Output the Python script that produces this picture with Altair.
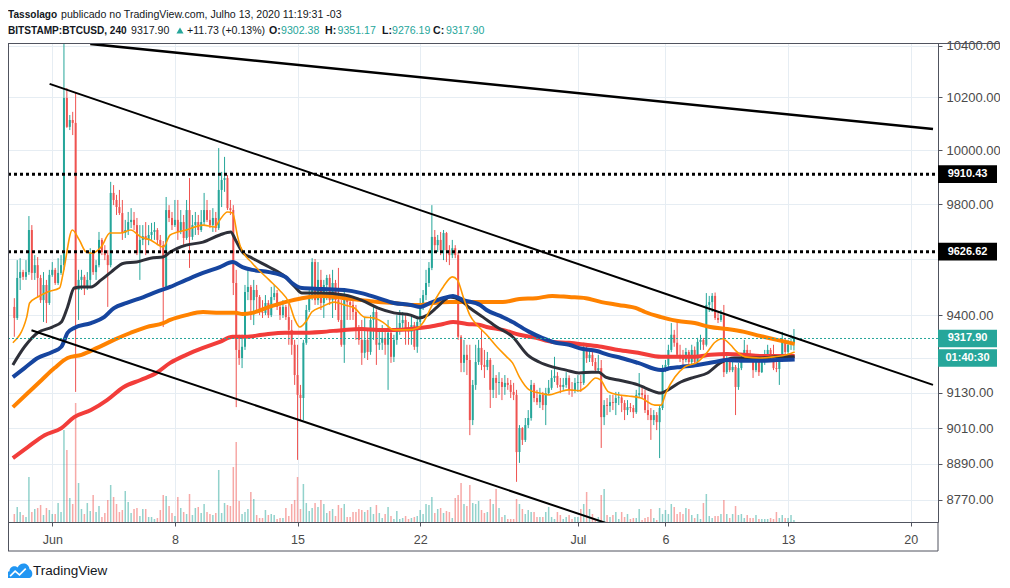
import altair as alt
import pandas as pd

GREEN = "#26a69a"
RED = "#ef5350"
INK = "#131722"
FRAME = "#50535e"
GRID = "#e6edf3"
SANS = "Liberation Sans"

W, H = 930, 479

# 4h candles, BITSTAMP:BTCUSD, first bar 2020-05-29 20:00
opens = [
    9429, 9390, 9532, 9553, 9536, 9553, 9705, 9550, 9578, 9532, 9453, 9507,
    9443, 9543, 9561, 9514, 9550, 9578, 10198, 10088, 10114, 10103, 9489, 9525,
    9536, 9500, 9525, 9621, 9553, 9578, 9669, 9625, 9614, 9578, 9841, 9815,
    9789, 9767, 9694, 9705, 9734, 9742, 9723, 9621, 9669, 9683, 9669, 9687,
    9698, 9705, 9669, 9650, 9500, 9778, 9749, 9723, 9742, 9698, 9734, 9676,
    9778, 9680, 9723, 9734, 9705, 9734, 9778, 9742, 9723, 9749, 9712, 9852,
    9889, 9896, 9785, 9778, 9514, 9278, 9250, 9289, 9482, 9500, 9453, 9489,
    9464, 9411, 9408, 9443, 9400, 9464, 9478, 9429, 9400, 9429, 9393, 9348,
    9296, 9191, 9123, 9112, 9303, 9418, 9464, 9589, 9453, 9525, 9443, 9507,
    9532, 9453, 9514, 9453, 9383, 9296, 9460, 9446, 9436, 9411, 9348, 9313,
    9268, 9313, 9271, 9383, 9411, 9296, 9303, 9320, 9296, 9338, 9254, 9313,
    9355, 9372, 9383, 9348, 9341, 9365, 9289, 9376, 9436, 9471, 9514, 9568,
    9680, 9650, 9669, 9632, 9694, 9632, 9614, 9639, 9614, 9324, 9233, 9261,
    9243, 9037, 9157, 9236, 9285, 9226, 9219, 9243, 9140, 9181, 9164, 9167,
    9150, 9164, 9157, 9133, 9123, 8929, 9010, 8970, 9020, 9044, 9157, 9112,
    9098, 9123, 9088, 9129, 9147, 9181, 9188, 9157, 9150, 9157, 9181, 9140,
    9137, 9164, 9167, 9164, 9278, 9250, 9261, 9236, 9208, 9215, 9047, 9088,
    9085, 9098, 9095, 9112, 9114, 9095, 9071, 9081, 9078, 9064, 9123, 9129,
    9123, 9071, 9054, 9037, 9054, 9030, 9078, 9208, 9226, 9278, 9331, 9303,
    9261, 9250, 9243, 9271, 9236, 9278, 9236, 9306, 9313, 9296, 9436, 9446,
    9468, 9390, 9383, 9400, 9201, 9243, 9208, 9219, 9150, 9215, 9250, 9278,
    9261, 9243, 9208, 9236, 9201, 9236, 9254, 9278, 9250, 9215, 9212, 9243,
    9313, 9271, 9296, 9302.38,
]
highs = [
    9460, 9596, 9603, 9561, 9596, 9756, 9723, 9614, 9607, 9543, 9553, 9525,
    9561, 9589, 9568, 9603, 9614, 10430, 10236, 10133, 10145, 10217, 9561, 9561,
    9543, 9553, 9639, 9632, 9596, 9698, 9676, 9650, 9632, 9882, 9870, 9834,
    9852, 9815, 9742, 9771, 9785, 9771, 9749, 9723, 9723, 9734, 9723, 9731,
    9734, 9712, 9687, 9665, 9826, 9796, 9771, 9815, 9815, 9778, 9760, 9815,
    9896, 9760, 9771, 9760, 9778, 9841, 9815, 9778, 9785, 9771, 10008, 9919,
    9975, 9907, 9815, 9796, 9561, 9331, 9331, 9507, 9561, 9507, 9525, 9507,
    9471, 9453, 9471, 9453, 9500, 9507, 9489, 9436, 9453, 9436, 9453, 9383,
    9313, 9296, 9157, 9313, 9436, 9489, 9603, 9600, 9589, 9561, 9525, 9543,
    9545, 9561, 9525, 9568, 9453, 9489, 9464, 9453, 9464, 9436, 9365, 9383,
    9390, 9348, 9400, 9436, 9420, 9355, 9365, 9348, 9383, 9345, 9331, 9400,
    9418, 9411, 9400, 9376, 9400, 9376, 9390, 9460, 9489, 9561, 9589, 9796,
    9705, 9687, 9698, 9705, 9698, 9650, 9669, 9650, 9625, 9330, 9313, 9296,
    9296, 9174, 9296, 9313, 9348, 9278, 9271, 9250, 9226, 9191, 9201, 9181,
    9191, 9181, 9174, 9164, 9140, 9020, 9013, 9044, 9071, 9174, 9164, 9140,
    9147, 9133, 9147, 9174, 9208, 9254, 9201, 9181, 9181, 9201, 9190, 9167,
    9181, 9191, 9191, 9303, 9296, 9278, 9271, 9250, 9261, 9243, 9105, 9112,
    9123, 9123, 9133, 9133, 9123, 9105, 9105, 9095, 9088, 9140, 9198, 9147,
    9140, 9123, 9078, 9071, 9064, 9088, 9226, 9243, 9296, 9372, 9348, 9386,
    9296, 9278, 9285, 9278, 9296, 9290, 9320, 9331, 9320, 9478, 9468, 9478,
    9480, 9408, 9418, 9436, 9261, 9250, 9243, 9226, 9233, 9261, 9313, 9296,
    9278, 9261, 9250, 9243, 9250, 9278, 9296, 9285, 9296, 9250, 9261, 9341,
    9320, 9313, 9331, 9351.17,
]
lows = [
    9324, 9383, 9489, 9525, 9525, 9543, 9525, 9525, 9464, 9443, 9376, 9372,
    9436, 9536, 9507, 9507, 9543, 9561, 10084, 10076, 10057, 9133, 9383, 9489,
    9471, 9489, 9496, 9543, 9525, 9570, 9614, 9596, 9429, 9570, 9796, 9760,
    9760, 9669, 9676, 9687, 9712, 9705, 9614, 9525, 9650, 9614, 9650, 9669,
    9669, 9650, 9632, 9358, 9490, 9734, 9705, 9716, 9669, 9690, 9650, 9669,
    9568, 9669, 9687, 9687, 9698, 9723, 9734, 9712, 9698, 9698, 9705, 9789,
    9845, 9778, 9760, 9471, 9081, 9226, 9215, 9278, 9453, 9383, 9365, 9418,
    9400, 9390, 9400, 9390, 9393, 9453, 9418, 9383, 9390, 9383, 9296, 9261,
    9157, 8903, 9037, 9037, 9296, 9411, 9453, 9436, 9436, 9418, 9390, 9453,
    9436, 9390, 9418, 9376, 9289, 9233, 9383, 9383, 9383, 9313, 9296, 9226,
    9250, 9243, 9261, 9313, 9226, 9278, 9278, 9261, 9140, 9233, 9236, 9296,
    9331, 9355, 9296, 9296, 9296, 9278, 9268, 9365, 9418, 9453, 9500, 9560,
    9632, 9625, 9614, 9596, 9589, 9578, 9603, 9603, 9313, 9201, 9201, 9191,
    8986, 9020, 9140, 9226, 9208, 9181, 9208, 9078, 9112, 9112, 9123, 9105,
    9123, 9140, 9112, 9105, 8830, 8893, 8953, 8963, 9010, 9035, 9098, 9088,
    9078, 9071, 9020, 9123, 9140, 9167, 9147, 9129, 9140, 9147, 9123, 9116,
    9129, 9133, 9133, 9157, 9233, 9236, 9222, 9201, 9201, 8943, 9020, 9054,
    9064, 9071, 9054, 9088, 9064, 9037, 9054, 9064, 9044, 9058, 9112, 9112,
    9061, 9037, 8970, 9020, 9003, 8909, 9071, 9201, 9208, 9270, 9289, 9254,
    9236, 9226, 9235, 9226, 9226, 9226, 9230, 9278, 9278, 9290, 9411, 9411,
    9383, 9372, 9376, 9184, 9195, 9201, 9201, 9054, 9140, 9208, 9236, 9243,
    9236, 9181, 9201, 9188, 9198, 9226, 9243, 9236, 9208, 9201, 9157, 9236,
    9261, 9250, 9278, 9276.19,
]
closes = [
    9390, 9532, 9553, 9536, 9553, 9705, 9550, 9578, 9532, 9453, 9507, 9443,
    9543, 9561, 9514, 9550, 9578, 10198, 10088, 10114, 10103, 9489, 9525, 9536,
    9500, 9525, 9621, 9553, 9578, 9669, 9625, 9614, 9578, 9841, 9815, 9789,
    9767, 9694, 9705, 9734, 9742, 9723, 9621, 9669, 9683, 9669, 9687, 9698,
    9705, 9669, 9650, 9500, 9778, 9749, 9723, 9742, 9698, 9734, 9676, 9778,
    9680, 9723, 9734, 9705, 9734, 9778, 9742, 9723, 9749, 9712, 9852, 9889,
    9896, 9785, 9778, 9514, 9278, 9250, 9289, 9482, 9500, 9453, 9489, 9464,
    9411, 9408, 9443, 9400, 9464, 9478, 9429, 9400, 9429, 9393, 9348, 9296,
    9191, 9123, 9112, 9303, 9418, 9464, 9589, 9453, 9525, 9443, 9507, 9532,
    9453, 9514, 9453, 9383, 9296, 9460, 9446, 9436, 9411, 9348, 9313, 9268,
    9313, 9271, 9383, 9411, 9296, 9303, 9320, 9296, 9338, 9254, 9313, 9355,
    9372, 9383, 9348, 9341, 9365, 9289, 9376, 9436, 9471, 9514, 9568, 9680,
    9650, 9669, 9632, 9694, 9632, 9614, 9639, 9614, 9324, 9233, 9261, 9243,
    9037, 9157, 9236, 9285, 9226, 9219, 9243, 9140, 9181, 9164, 9167, 9150,
    9164, 9157, 9133, 9123, 8929, 9010, 8970, 9020, 9044, 9157, 9112, 9098,
    9123, 9088, 9129, 9147, 9181, 9188, 9157, 9150, 9157, 9181, 9140, 9137,
    9164, 9167, 9164, 9278, 9250, 9261, 9236, 9208, 9215, 9047, 9088, 9085,
    9098, 9095, 9112, 9114, 9095, 9071, 9081, 9078, 9064, 9123, 9129, 9123,
    9071, 9054, 9037, 9054, 9030, 9078, 9208, 9226, 9278, 9331, 9303, 9261,
    9250, 9243, 9271, 9236, 9278, 9236, 9306, 9313, 9296, 9436, 9446, 9468,
    9390, 9383, 9400, 9201, 9243, 9208, 9219, 9150, 9215, 9250, 9278, 9261,
    9243, 9208, 9236, 9201, 9236, 9254, 9278, 9250, 9215, 9212, 9243, 9313,
    9271, 9296, 9306.17, 9317.90,
]
volumes = [
    400, 750, 500, 350, 250, 2250, 500, 650, 700, 850, 350, 700,
    600, 400, 400, 950, 500, 4600, 3600, 1200, 900, 5950, 1950, 650,
    400, 950, 550, 1350, 500, 800, 250, 450, 1100, 1850, 1250, 900,
    500, 600, 1550, 1000, 450, 650, 700, 300, 650, 650, 250, 250,
    150, 200, 600, 1350, 1300, 800, 450, 300, 1250, 700, 500, 400,
    1400, 350, 700, 750, 450, 900, 500, 400, 350, 450, 2600, 450,
    950, 850, 800, 2750, 4000, 1050, 400, 500, 650, 1500, 1150, 350,
    200, 200, 600, 350, 400, 350, 150, 200, 200, 700, 300, 900,
    1100, 2250, 650, 1900, 950, 550, 700, 950, 750, 1100, 900, 450,
    550, 650, 300, 850, 700, 900, 250, 250, 500, 500, 650, 600,
    500, 600, 750, 400, 850, 450, 200, 400, 750, 300, 150, 550,
    150, 200, 300, 150, 200, 250, 300, 600, 400, 900, 850, 1250,
    450, 650, 700, 450, 550, 500, 200, 1200, 1350, 1950, 900, 800,
    1850, 950, 900, 1050, 600, 450, 500, 1150, 900, 1650, 700, 250,
    350, 150, 150, 150, 1150, 900, 650, 400, 600, 500, 500, 250,
    250, 250, 500, 750, 250, 150, 500, 350, 150, 250, 350, 150,
    250, 250, 650, 900, 1500, 650, 400, 150, 250, 1350, 1650, 350,
    250, 350, 500, 150, 500, 250, 400, 150, 200, 200, 650, 100,
    200, 250, 650, 200, 100, 700, 400, 600, 400, 900, 750, 400,
    500, 400, 700, 650, 350, 200, 400, 150, 950, 1400, 300, 200,
    300, 300, 400, 1100, 400, 200, 400, 800, 350, 400, 200, 350,
    200, 200, 350, 150, 150, 150, 150, 200, 150, 500, 200, 350,
    200, 200, 350, 100,
]

# moving averages
fast_t = ["2020-05-29 18:00", "2020-05-30 13:00", "2020-05-30 17:00", "2020-05-31 04:00", "2020-05-31 17:30",
          "2020-06-01 10:00", "2020-06-01 15:00", "2020-06-02 03:30", "2020-06-02 13:00", "2020-06-02 22:30",
          "2020-06-03 06:30", "2020-06-03 19:00", "2020-06-04 07:00", "2020-06-04 22:00", "2020-06-05 11:30",
          "2020-06-06 01:00", "2020-06-06 14:30", "2020-06-07 08:00", "2020-06-07 17:30", "2020-06-08 15:30",
          "2020-06-09 14:30", "2020-06-10 06:30", "2020-06-10 13:30", "2020-06-11 00:00", "2020-06-11 07:00",
          "2020-06-11 14:00", "2020-06-11 18:00", "2020-06-12 10:00", "2020-06-13 09:00", "2020-06-13 23:00",
          "2020-06-14 12:30", "2020-06-14 20:30", "2020-06-15 03:00", "2020-06-15 13:00", "2020-06-15 19:30",
          "2020-06-16 09:00", "2020-06-17 02:30", "2020-06-17 16:00", "2020-06-18 06:00", "2020-06-18 19:30",
          "2020-06-19 09:00", "2020-06-19 22:30", "2020-06-20 12:00", "2020-06-21 07:00", "2020-06-21 20:30",
          "2020-06-22 04:30", "2020-06-22 18:00", "2020-06-23 07:30", "2020-06-23 20:00", "2020-06-24 03:00",
          "2020-06-24 11:00", "2020-06-24 20:00", "2020-06-25 06:00", "2020-06-25 19:00", "2020-06-26 09:00",
          "2020-06-26 22:30", "2020-06-27 06:30", "2020-06-27 16:00", "2020-06-28 05:30", "2020-06-28 19:00",
          "2020-06-29 08:30", "2020-06-29 22:30", "2020-06-30 12:00", "2020-07-01 01:30", "2020-07-01 11:00",
          "2020-07-02 00:30", "2020-07-02 07:00", "2020-07-02 18:00", "2020-07-03 07:30", "2020-07-03 21:00",
          "2020-07-04 14:30", "2020-07-05 09:30", "2020-07-05 18:00", "2020-07-06 00:30", "2020-07-06 13:00",
          "2020-07-07 02:30", "2020-07-07 20:00", "2020-07-08 09:30", "2020-07-08 19:00", "2020-07-09 06:00",
          "2020-07-09 17:00", "2020-07-10 02:00", "2020-07-10 13:00", "2020-07-11 09:30", "2020-07-12 04:30",
          "2020-07-12 22:00", "2020-07-13 09:00"]
fast_v = [9303, 9393, 9443, 9464, 9482, 9496, 9550, 9705, 9669, 9625,
          9621, 9643, 9694, 9694, 9705, 9680, 9669, 9643, 9687, 9705,
          9723, 9716, 9742, 9771, 9767, 9680, 9643, 9585, 9525, 9489,
          9443, 9383, 9358, 9383, 9411, 9429, 9446, 9436, 9425, 9393,
          9390, 9372, 9348, 9348, 9355, 9376, 9443, 9500, 9536, 9525,
          9464, 9400, 9365, 9331, 9289, 9254, 9233, 9184, 9140, 9129,
          9123, 9133, 9140, 9137, 9150, 9181, 9174, 9133, 9123, 9119,
          9112, 9088, 9088, 9129, 9184, 9219, 9236, 9271, 9303, 9317,
          9296, 9271, 9254, 9250, 9254, 9261, 9271]

mid_t = ["2020-05-29 18:00", "2020-05-30 10:00", "2020-05-31 04:00", "2020-06-01 00:00", "2020-06-01 12:30",
         "2020-06-01 21:00", "2020-06-02 06:00", "2020-06-02 16:00", "2020-06-03 05:00", "2020-06-03 19:00",
         "2020-06-04 08:30", "2020-06-05 02:00", "2020-06-05 19:30", "2020-06-06 14:30", "2020-06-07 08:00",
         "2020-06-07 17:30", "2020-06-08 15:30", "2020-06-09 14:30", "2020-06-10 13:30", "2020-06-11 04:30",
         "2020-06-11 11:00", "2020-06-11 20:30", "2020-06-12 10:00", "2020-06-13 09:00", "2020-06-14 07:00",
         "2020-06-14 20:30", "2020-06-15 06:00", "2020-06-16 09:00", "2020-06-17 16:00", "2020-06-18 15:30",
         "2020-06-19 14:30", "2020-06-20 12:00", "2020-06-21 11:00", "2020-06-21 22:00", "2020-06-22 10:00",
         "2020-06-22 23:30", "2020-06-23 17:00", "2020-06-24 07:00", "2020-06-24 20:00", "2020-06-25 14:00",
         "2020-06-26 09:00", "2020-06-27 06:30", "2020-06-28 03:00", "2020-06-28 19:00", "2020-06-29 13:00",
         "2020-06-30 08:00", "2020-07-01 01:30", "2020-07-01 19:00", "2020-07-02 04:30", "2020-07-02 14:00",
         "2020-07-03 07:30", "2020-07-04 10:30", "2020-07-04 20:00", "2020-07-05 18:00", "2020-07-06 03:30",
         "2020-07-06 21:00", "2020-07-07 16:00", "2020-07-08 09:30", "2020-07-09 03:00", "2020-07-09 22:00",
         "2020-07-10 16:00", "2020-07-11 09:30", "2020-07-12 08:30", "2020-07-13 09:00"]
mid_v = [9226, 9289, 9338, 9358, 9376, 9429, 9496, 9500, 9500, 9525,
         9553, 9585, 9589, 9603, 9607, 9625, 9650, 9661, 9687, 9698,
         9669, 9625, 9603, 9571, 9536, 9500, 9478, 9478, 9471, 9453,
         9425, 9408, 9400, 9390, 9400, 9429, 9464, 9453, 9425, 9393,
         9358, 9324, 9261, 9236, 9219, 9208, 9198, 9201, 9201, 9184,
         9174, 9157, 9147, 9129, 9140, 9167, 9184, 9198, 9233, 9250,
         9250, 9250, 9254, 9254]

blue_t = ["2020-05-29 18:00", "2020-05-30 10:00", "2020-05-31 04:00", "2020-06-01 00:00", "2020-06-01 12:30",
          "2020-06-01 21:00", "2020-06-02 06:00", "2020-06-03 05:00", "2020-06-03 23:00", "2020-06-04 12:30",
          "2020-06-05 06:00", "2020-06-06 05:00", "2020-06-06 22:30", "2020-06-07 17:30", "2020-06-08 15:30",
          "2020-06-09 14:30", "2020-06-10 13:30", "2020-06-11 07:00", "2020-06-11 20:30", "2020-06-12 10:00",
          "2020-06-13 09:00", "2020-06-14 07:00", "2020-06-14 16:30", "2020-06-15 06:00", "2020-06-16 09:00",
          "2020-06-17 16:00", "2020-06-18 15:30", "2020-06-19 14:30", "2020-06-20 12:00", "2020-06-21 11:00",
          "2020-06-22 00:30", "2020-06-22 14:00", "2020-06-23 07:30", "2020-06-23 21:00", "2020-06-24 11:00",
          "2020-06-25 10:00", "2020-06-25 19:00", "2020-06-26 17:00", "2020-06-27 06:30", "2020-06-28 05:30",
          "2020-06-28 23:00", "2020-06-29 18:00", "2020-06-30 12:00", "2020-07-01 05:30", "2020-07-02 00:30",
          "2020-07-02 18:00", "2020-07-03 11:30", "2020-07-04 10:30", "2020-07-05 18:00", "2020-07-06 07:30",
          "2020-07-06 21:00", "2020-07-07 20:00", "2020-07-08 19:00", "2020-07-09 12:30", "2020-07-10 12:00",
          "2020-07-11 09:30", "2020-07-12 08:30", "2020-07-13 09:00"]
blue_v = [9184, 9215, 9250, 9271, 9289, 9338, 9355, 9372, 9393, 9425,
          9443, 9464, 9482, 9500, 9525, 9550, 9571, 9589, 9571, 9561,
          9553, 9536, 9514, 9496, 9493, 9489, 9478, 9460, 9443, 9436,
          9429, 9443, 9460, 9468, 9453, 9436, 9418, 9393, 9376, 9341,
          9320, 9303, 9296, 9282, 9275, 9261, 9250, 9233, 9208, 9215,
          9219, 9226, 9236, 9243, 9240, 9240, 9243, 9245]

orange_t = ["2020-05-29 18:00", "2020-05-30 14:30", "2020-05-31 09:30", "2020-06-01 03:00", "2020-06-01 21:00",
            "2020-06-02 16:00", "2020-06-03 13:30", "2020-06-04 12:30", "2020-06-05 11:30", "2020-06-06 09:00",
            "2020-06-07 08:00", "2020-06-07 17:30", "2020-06-08 15:30", "2020-06-09 14:30", "2020-06-10 13:30",
            "2020-06-11 11:00", "2020-06-11 20:30", "2020-06-12 10:00", "2020-06-13 09:00", "2020-06-14 07:00",
            "2020-06-15 06:00", "2020-06-16 09:00", "2020-06-17 16:00", "2020-06-18 15:30", "2020-06-19 14:30",
            "2020-06-20 12:00", "2020-06-21 11:00", "2020-06-22 00:30", "2020-06-22 18:00", "2020-06-23 17:00",
            "2020-06-24 11:00", "2020-06-25 19:00", "2020-06-26 17:00", "2020-06-27 16:00", "2020-06-28 15:00",
            "2020-06-29 13:00", "2020-06-30 12:00", "2020-07-01 11:00", "2020-07-02 08:30", "2020-07-03 07:30",
            "2020-07-04 10:30", "2020-07-04 20:00", "2020-07-05 18:00", "2020-07-06 17:00", "2020-07-07 16:00",
            "2020-07-08 13:30", "2020-07-09 12:30", "2020-07-10 12:00", "2020-07-11 09:30", "2020-07-12 08:30",
            "2020-07-13 09:00"]
orange_v = [9081, 9129, 9174, 9215, 9250, 9261, 9285, 9313, 9338, 9358,
            9372, 9383, 9400, 9411, 9408, 9408, 9404, 9408, 9429, 9446,
            9460, 9468, 9460, 9453, 9446, 9443, 9436, 9436, 9443, 9446,
            9446, 9446, 9446, 9457, 9460, 9468, 9464, 9460, 9446, 9436,
            9422, 9411, 9393, 9379, 9372, 9358, 9351, 9341, 9327, 9313,
            9299]

red_t = ["2020-05-29 18:00", "2020-05-30 14:30", "2020-05-31 13:30", "2020-06-01 12:30", "2020-06-02 06:00",
         "2020-06-03 05:00", "2020-06-04 03:00", "2020-06-05 02:00", "2020-06-06 01:00", "2020-06-06 22:30",
         "2020-06-07 17:30", "2020-06-08 15:30", "2020-06-09 14:30", "2020-06-10 13:30", "2020-06-11 07:00",
         "2020-06-12 01:00", "2020-06-13 00:00", "2020-06-14 07:00", "2020-06-15 02:00", "2020-06-16 09:00",
         "2020-06-17 16:00", "2020-06-18 15:30", "2020-06-19 14:30", "2020-06-20 12:00", "2020-06-21 11:00",
         "2020-06-22 10:00", "2020-06-23 07:30", "2020-06-23 21:00", "2020-06-24 16:00", "2020-06-25 10:00",
         "2020-06-25 19:00", "2020-06-26 17:00", "2020-06-27 16:00", "2020-06-28 15:00", "2020-06-29 13:00",
         "2020-06-30 12:00", "2020-07-01 11:00", "2020-07-02 08:30", "2020-07-03 07:30", "2020-07-04 10:30",
         "2020-07-05 18:00", "2020-07-06 17:00", "2020-07-07 16:00", "2020-07-08 13:30", "2020-07-09 12:30",
         "2020-07-10 12:00", "2020-07-11 09:30", "2020-07-12 08:30", "2020-07-13 09:00"]
red_v = [8909, 8946, 8986, 9010, 9047, 9071, 9105, 9150, 9174, 9198,
         9233, 9261, 9285, 9306, 9324, 9324, 9331, 9338, 9338, 9341,
         9348, 9351, 9348, 9348, 9351, 9358, 9369, 9376, 9369, 9365,
         9358, 9348, 9331, 9320, 9306, 9303, 9296, 9289, 9278, 9268,
         9254, 9254, 9254, 9261, 9264, 9261, 9257, 9257, 9257]

# drawn trend lines (two anchor points each)
trend_top_t = ["2020-06-03 04:00", "2020-07-21 06:30"]
trend_top_v = [10407, 10080]
trend_hi_t = ["2020-05-31 20:20", "2020-07-21 06:30"]
trend_hi_v = [10252, 9157]
trend_lo_t = ["2020-05-30 19:30", "2020-07-03 07:36"]
trend_lo_v = [9347, 8681]

levels = [9910.43, 9626.62]
last_price = 9317.90
price_ticks = [8770, 8890, 9010, 9130, 9250, 9400, 9600, 9800, 10000, 10200, 10400]
tick_days = [(6, 1), (6, 8), (6, 15), (6, 22), (7, 1), (7, 6), (7, 13), (7, 20)]

bars = pd.DataFrame({
    "t": pd.date_range("2020-05-29 20:00", periods=len(closes), freq="4h"),
    "open": opens, "high": highs, "low": lows, "close": closes, "vol": volumes,
})
one = pd.DataFrame({"k": [0]})

xs = alt.Scale(domain=[alt.DateTime(year=2020, month=5, date=29, hours=18, minutes=12),
                       alt.DateTime(year=2020, month=7, date=21, hours=6, minutes=30)])
ys = alt.Scale(type="log", domain=[8697.9, 10410.5], nice=False)

x_axis = alt.Axis(
    values=[alt.DateTime(year=2020, month=m, date=d) for m, d in tick_days],
    labelExpr="date(datum.value) == 1 ? timeFormat(datum.value, '%b') : timeFormat(datum.value, '%-d')",
    title=None, grid=True, gridColor=GRID, domainColor=FRAME, tickColor=FRAME,
    tickSize=4, labelPadding=7, labelColor="#4a4a4a", labelFont=SANS,
    labelFontSize=12.5, labelFlush=False, labelOverlap=False,
)
# 9600 and 9250 sit under the price tags, so their labels stay blank
y_axis = alt.Axis(
    orient="right", values=price_ticks, title=None, grid=True,
    labelExpr="datum.value == 9600 || datum.value == 9250 ? '' : format(datum.value, '.2f')",
    gridColor=GRID, domainColor=FRAME, tickColor=FRAME, tickSize=4, labelPadding=4,
    labelColor="#4a4a4a", labelFont=SANS, labelFontSize=13, labelFlush=False,
    labelOverlap=False,
)
updown = alt.condition("datum.close >= datum.open", alt.value(GREEN), alt.value(RED))

# every layer carries the same axis definitions so the merged axes stay enabled
X = alt.X("t:T", scale=xs, axis=x_axis)


def Yp(field):
    return alt.Y(field, scale=ys, axis=y_axis)


def series(times, values, color, width, interp="monotone"):
    df = pd.DataFrame({"t": pd.to_datetime(times), "v": values})
    return alt.Chart(df).mark_line(
        color=color, strokeWidth=width, clip=True, interpolate=interp
    ).encode(x=X, y=Yp("v:Q"))


def label(txt, x, y, size=10.6, weight="normal", color=INK, align="left"):
    return alt.Chart(one).mark_text(
        text=txt, align=align, baseline="alphabetic", fontSize=size,
        fontWeight=weight, color=color, font=SANS,
    ).encode(x=alt.value(x), y=alt.value(y))


def rule(x, x2, y, y2):
    return alt.Chart(one).mark_rule(color=FRAME, strokeWidth=1).encode(
        x=alt.value(x), x2=alt.value(x2), y=alt.value(y), y2=alt.value(y2)
    )


volume = alt.Chart(bars).mark_bar(width=1.5, opacity=0.5).encode(
    x=X, y=alt.Y("vol:Q", scale=alt.Scale(domain=[0, 23950]), axis=None), color=updown
)

wicks = alt.Chart(bars).mark_rule(strokeWidth=1, clip=True).encode(
    x=X, y=Yp("low:Q"), y2="high:Q", color=updown
)
bodies = alt.Chart(bars).mark_bar(width=2, clip=True).encode(
    x=X, y=Yp("open:Q"), y2="close:Q", color=updown
)

hlines = alt.Chart(pd.DataFrame({"v": levels})).mark_rule(
    color="black", strokeWidth=3, strokeDash=[3, 3]
).encode(y=Yp("v:Q"), x=alt.value(0), x2=alt.value(W))
price_line = alt.Chart(pd.DataFrame({"v": [last_price]})).mark_rule(
    color=GREEN, strokeWidth=1, strokeDash=[2, 2]
).encode(y=Yp("v:Q"), x=alt.value(0), x2=alt.value(W))

BOX = "M-1,-0.3L1,-0.3L1,0.3L-1,0.3Z"
tags = pd.DataFrame({"v": levels, "txt": ["9910.43", "9626.62"]})
tag_box = alt.Chart(tags).mark_point(
    shape=BOX, size=3481, filled=True, color="black", opacity=1, strokeWidth=0
).encode(x=alt.value(959.5), y=Yp("v:Q"))
tag_txt = alt.Chart(tags).mark_text(
    color="white", fontWeight="bold", font=SANS, fontSize=11, align="center", baseline="middle"
).encode(x=alt.value(959.5), y=Yp("v:Q"), text="txt:N")

last = pd.DataFrame({"v": [last_price], "txt": ["9317.90"], "clock": ["01:40:30"]})
last_box = alt.Chart(last).mark_point(
    shape=BOX, size=3481, filled=True, color=GREEN, opacity=1, strokeWidth=0
).encode(x=alt.value(959.5), y=Yp("v:Q"))
clock_box = alt.Chart(last).mark_point(
    shape=BOX, size=3481, filled=True, color=GREEN, opacity=1, strokeWidth=0, yOffset=19.5
).encode(x=alt.value(959.5), y=Yp("v:Q"))
last_txt = alt.Chart(last).mark_text(
    color="white", fontWeight="bold", font=SANS, fontSize=11, align="center", baseline="middle"
).encode(x=alt.value(959.5), y=Yp("v:Q"), text="txt:N")
clock_txt = alt.Chart(last).mark_text(
    color="white", fontWeight="bold", font=SANS, fontSize=11, align="center",
    baseline="middle", yOffset=19.5
).encode(x=alt.value(959.5), y=Yp("v:Q"), text="clock:N")

tri = alt.Chart(one).mark_point(
    shape="triangle-up", size=50, filled=True, color=GREEN, opacity=1
).encode(x=alt.value(172), y=alt.value(-12.5))

CLOUD = ("M-0.9,0.6 C-1.1,0.6 -1.1,0.1 -0.8,0.05 C-0.8,-0.35 -0.35,-0.45 -0.15,-0.25 "
         "C0.05,-0.7 0.75,-0.65 0.8,-0.1 C1.1,-0.05 1.1,0.6 0.8,0.6 Z")
ZIG = "M-0.75,0.45 L-0.35,0.05 L0,0.35 L0.5,-0.15"
logo = alt.Chart(one).mark_point(
    shape=CLOUD, size=625, filled=True, color="#2196f3", opacity=1, strokeWidth=0
).encode(x=alt.value(11.5), y=alt.value(527.5))
logo_zig = alt.Chart(one).mark_point(
    shape=ZIG, size=625, filled=False, color="white", opacity=1, strokeWidth=1.6
).encode(x=alt.value(11.5), y=alt.value(527.5))

header = [
    label("Tassolago", 0, -25, size=10.1, weight="bold"),
    label("publicado no TradingView.com, Julho 13, 2020 11:19:31 -03", 53, -25),
    label("BITSTAMP:BTCUSD, 240", 0, -9, size=10.1, weight="bold"),
    label("9317.90", 123, -9),
    label("+11.73 (+0.13%)", 179, -9),
    label("O:", 261, -9, weight="bold"),
    label("9302.38", 273, -9, color=GREEN),
    label("H:", 317, -9, weight="bold"),
    label("9351.17", 329.5, -9, color=GREEN),
    label("L:", 374, -9, weight="bold"),
    label("9276.19", 384, -9, color=GREEN),
    label("C:", 425, -9, weight="bold"),
    label("9317.90", 438, -9, color=GREEN),
    label("TradingView", 25, 531.5, size=13.5),
]

frame = [
    rule(0, 994, 0.5, 0.5),
    rule(0.5, 0.5, 0, 508),
    rule(0, 930, 508, 508),
    rule(930, 930, 479, 508),
]

price = alt.layer(
    wicks, bodies,
    series(orange_t, orange_v, "#ff8200", 4),
    series(red_t, red_v, "#f23d3a", 4),
    series(mid_t, mid_v, "#2e3039", 3),
    series(blue_t, blue_v, "#16459f", 4),
    series(fast_t, fast_v, "#ff9800", 1.6),
    price_line, hlines,
    series(trend_top_t, trend_top_v, "black", 2.5, "linear"),
    series(trend_hi_t, trend_hi_v, "black", 2, "linear"),
    series(trend_lo_t, trend_lo_v, "black", 2, "linear"),
    tag_box, tag_txt, last_box, clock_box, last_txt, clock_txt,
    tri, logo, logo_zig, *header, *frame,
)

chart = alt.layer(volume, price).resolve_scale(y="independent").properties(
    width=W, height=H, background="white",
    autosize=alt.AutoSizeParams(type="none"),
    padding={"left": 0, "top": 35, "right": 62, "bottom": 56},
).configure_view(stroke=None)

chart.save("out.html", embed_options={"renderer": "svg", "actions": False})
